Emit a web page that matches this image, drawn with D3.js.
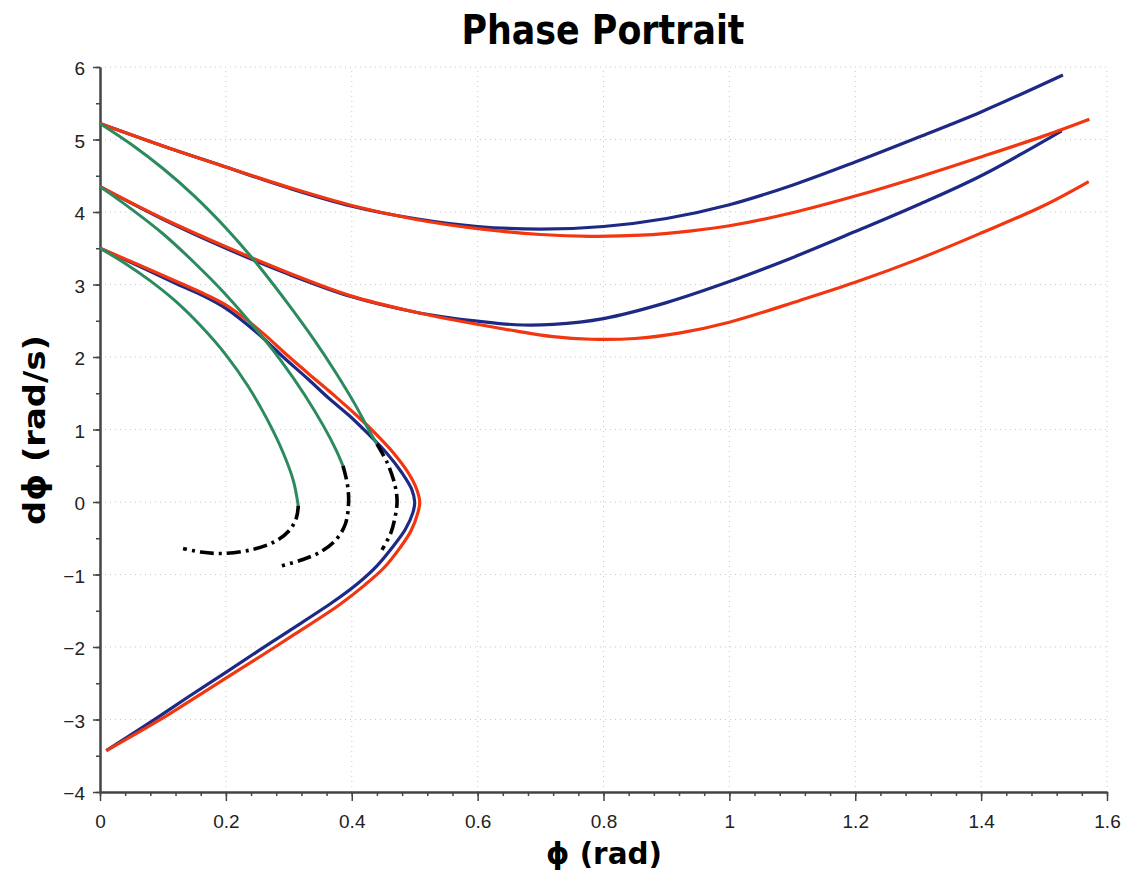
<!DOCTYPE html>
<html><head><meta charset="utf-8">
<script src="https://cdn.jsdelivr.net/npm/d3@7"></script>
<style>body{margin:0;background:#fff}svg{display:block}</style>
</head><body>
<script>
const xTicks = [0,0.2,0.4,0.6,0.8,1,1.2,1.4,1.6];
const yTicks = [-4,-3,-2,-1,0,1,2,3,4,5,6];
const xTickLabels = ["0","0.2","0.4","0.6","0.8","1","1.2","1.4","1.6"];
const yTickLabels = ["\u22124","\u22123","\u22122","\u22121","0","1","2","3","4","5","6"];

const blueTop = [[0,5.22],[0.1,4.91],[0.2,4.62],[0.3,4.33],[0.4,4.08],[0.5,3.91],[0.6,3.8],[0.7,3.765],[0.8,3.8],[0.9,3.91],[1.0,4.1],[1.1,4.37],[1.2,4.69],[1.3,5.03],[1.4,5.38],[1.53,5.89]];
const redTop = [[0,5.22],[0.1,4.91],[0.2,4.62],[0.3,4.34],[0.4,4.09],[0.5,3.9],[0.6,3.77],[0.7,3.69],[0.78,3.665],[0.86,3.68],[0.94,3.74],[1.0,3.81],[1.1,3.99],[1.2,4.22],[1.3,4.48],[1.4,4.76],[1.5,5.05],[1.572,5.28]];
const blueMid = [[0,4.35],[0.1,3.9],[0.2,3.5],[0.3,3.14],[0.4,2.83],[0.5,2.62],[0.556,2.54],[0.6,2.495],[0.66,2.445],[0.72,2.45],[0.8,2.53],[0.9,2.75],[1.0,3.04],[1.1,3.37],[1.2,3.73],[1.3,4.1],[1.4,4.5],[1.528,5.12]];
const redMid = [[0,4.35],[0.1,3.91],[0.2,3.52],[0.3,3.16],[0.4,2.84],[0.5,2.62],[0.556,2.52],[0.66,2.36],[0.72,2.28],[0.78,2.245],[0.85,2.255],[0.92,2.33],[1.0,2.48],[1.112,2.78],[1.2,3.03],[1.3,3.35],[1.4,3.71],[1.5,4.09],[1.571,4.42]];
const blueLow = [[0,3.5],[0.06,3.26],[0.124,3.0],[0.165,2.84],[0.2,2.67],[0.25,2.33],[0.291,2.0],[0.33,1.7],[0.365,1.42],[0.395,1.2],[0.425,0.95],[0.455,0.68],[0.48,0.4],[0.495,0.18],[0.5,0],[0.497,-0.15],[0.485,-0.38],[0.465,-0.62],[0.44,-0.88],[0.41,-1.12],[0.37,-1.38],[0.3,-1.78],[0.254,-2.04],[0.2,-2.35],[0.14,-2.69],[0.09,-2.98],[0.01,-3.43]];
const redLow = [[0,3.5],[0.062,3.27],[0.127,3.02],[0.168,2.86],[0.205,2.69],[0.256,2.35],[0.298,2.02],[0.338,1.72],[0.376,1.44],[0.407,1.2],[0.437,0.95],[0.466,0.68],[0.49,0.4],[0.503,0.18],[0.508,0],[0.505,-0.15],[0.494,-0.4],[0.476,-0.64],[0.452,-0.9],[0.42,-1.15],[0.38,-1.42],[0.31,-1.82],[0.262,-2.09],[0.2,-2.43],[0.14,-2.76],[0.09,-3.03],[0.01,-3.43]];
const green1 = [[0,3.5],[0.04,3.29],[0.08,3.05],[0.12,2.77],[0.16,2.43],[0.2,2.03],[0.235,1.6],[0.265,1.15],[0.29,0.7],[0.307,0.3],[0.315,-0.05]];
const green2 = [[0,4.35],[0.05,4.04],[0.1,3.7],[0.15,3.3],[0.2,2.86],[0.25,2.36],[0.29,1.92],[0.325,1.48],[0.355,1.05],[0.375,0.72],[0.386,0.5]];
const green3 = [[0,5.22],[0.05,4.93],[0.1,4.6],[0.15,4.22],[0.2,3.78],[0.25,3.28],[0.3,2.72],[0.34,2.24],[0.375,1.78],[0.405,1.35],[0.428,0.98],[0.44,0.8]];
const black1 = [[0.315,-0.05],[0.312,-0.22],[0.3,-0.4],[0.277,-0.55],[0.24,-0.66],[0.196,-0.71],[0.16,-0.69],[0.132,-0.64]];
const black2 = [[0.386,0.5],[0.393,0.25],[0.395,0],[0.39,-0.3],[0.375,-0.52],[0.35,-0.69],[0.32,-0.8],[0.289,-0.88]];
const black3 = [[0.44,0.8],[0.457,0.53],[0.469,0.22],[0.472,0],[0.469,-0.2],[0.462,-0.43],[0.448,-0.66]];

const W = 1128, H = 871;
const svg = d3.select("body").append("svg").attr("width", W).attr("height", H);
svg.append("rect").attr("width", W).attr("height", H).attr("fill", "#fff");

const x = d3.scaleLinear().domain([0,1.6]).range([100,1107]);
const y = d3.scaleLinear().domain([-4,6]).range([792,67]);

// grid
const grid = svg.append("g");
grid.selectAll("line.v").data(xTicks.slice(1)).enter().append("line")
  .attr("x1", d=>x(d)).attr("x2", d=>x(d)).attr("y1", y(-4)).attr("y2", y(6))
  .attr("stroke", "#c8c8c8").attr("stroke-width", 1).attr("stroke-dasharray", "1,4");
grid.selectAll("line.h").data(yTicks.slice(1)).enter().append("line")
  .attr("y1", d=>y(d)).attr("y2", d=>y(d)).attr("x1", x(0)).attr("x2", x(1.6))
  .attr("stroke", "#c8c8c8").attr("stroke-width", 1).attr("stroke-dasharray", "1,4");

// axes
const axCol = "#444";
const xMinor = d3.range(0, 1.6001, 0.04);
const yMinor = d3.range(-4, 6.001, 0.5);
const xAxisMinor = d3.axisBottom(x).tickValues(xMinor).tickSize(4).tickFormat("").tickSizeOuter(0);
const xAxis = d3.axisBottom(x).tickValues(xTicks).tickSize(9).tickSizeOuter(0).tickFormat((d,i)=>xTickLabels[i]);
const yAxisMinor = d3.axisLeft(y).tickValues(yMinor).tickSize(4).tickFormat("").tickSizeOuter(0);
const yAxis = d3.axisLeft(y).tickValues(yTicks).tickSize(7).tickSizeOuter(0).tickFormat((d,i)=>yTickLabels[i]);

function style(g){
  g.selectAll("path.domain").attr("stroke", axCol).attr("stroke-width", 2);
  g.selectAll(".tick line").attr("stroke", axCol).attr("stroke-width", 1.5);
  g.selectAll(".tick text").attr("fill", "#222").attr("font-family", "Liberation Sans, Arial, sans-serif").attr("font-size", 19);
}
svg.append("g").attr("transform", `translate(0,${y(-4)})`).call(xAxisMinor).call(style);
const gx = svg.append("g").attr("transform", `translate(0,${y(-4)})`).call(xAxis).call(style);
gx.selectAll(".tick text").attr("dy", "1.25em");
svg.append("g").attr("transform", `translate(${x(0)},0)`).call(yAxisMinor).call(style);
const gy = svg.append("g").attr("transform", `translate(${x(0)},0)`).call(yAxis).call(style);
gy.selectAll(".tick text").attr("x", -15).attr("dy", "0.4em");

// curves
const line = d3.line().x(d=>x(d[0])).y(d=>y(d[1])).curve(d3.curveCatmullRom.alpha(0.5));
const blue = "#1c2a86", red = "#f2360f", green = "#2b8a5e";
const dash = "14,5,3,5";
const curves = [
  [blueTop, blue, 3.2, null],[blueMid, blue, 3.2, null],[blueLow, blue, 3.2, null],
  [redTop, red, 3.2, null],[redMid, red, 3.2, null],[redLow, red, 3.2, null],
  [green1, green, 3, null],[green2, green, 3, null],[green3, green, 3, null],
  [black1, "#000", 3.6, dash],[black2, "#000", 3.6, dash],[black3, "#000", 3.6, dash]
];
svg.append("g").selectAll("path").data(curves).enter().append("path")
  .attr("d", d=>line(d[0])).attr("fill", "none")
  .attr("stroke", d=>d[1]).attr("stroke-width", d=>d[2])
  .attr("stroke-dasharray", d=>d[3]).attr("stroke-linecap", "butt").attr("stroke-linejoin", "round");

// titles
svg.append("text").attr("x", 603).attr("y", 44).attr("text-anchor", "middle")
  .attr("font-family", "DejaVu Sans, sans-serif").attr("font-weight", "bold").attr("font-size", 40)
  .attr("textLength", 283).attr("lengthAdjust", "spacingAndGlyphs")
  .text("Phase Portrait");
svg.append("text").attr("x", 604).attr("y", 864).attr("text-anchor", "middle")
  .attr("font-family", "DejaVu Sans, sans-serif").attr("font-weight", "bold").attr("font-size", 30)
  .attr("textLength", 116).attr("lengthAdjust", "spacingAndGlyphs")
  .text("\u03d5 (rad)");
svg.append("text").attr("transform", "translate(45,430) rotate(-90)").attr("text-anchor", "middle")
  .attr("font-family", "DejaVu Sans, sans-serif").attr("font-weight", "bold").attr("font-size", 31)
  .attr("textLength", 190).attr("lengthAdjust", "spacingAndGlyphs")
  .text("d\u03d5 (rad/s)");
</script>
</body></html>
